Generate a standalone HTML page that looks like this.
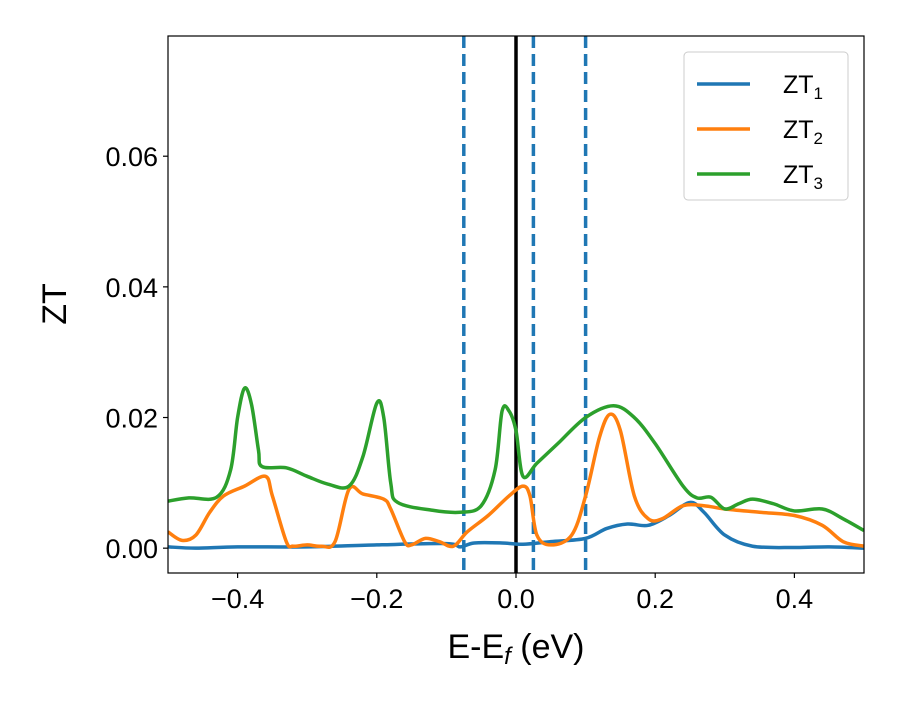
<!DOCTYPE html>
<html><head><meta charset="utf-8"><style>
body{margin:0;background:#fff}
svg text{font-family:"Liberation Sans","DejaVu Sans",sans-serif}
</style></head><body>
<svg id="chart" width="900" height="700" xmlns="http://www.w3.org/2000/svg">
<rect width="900" height="700" fill="#fff"/>
<g id="plot"></g>
<g id="axes"></g>
<text x="516" y="658" text-anchor="middle" font-size="34">E-E<tspan font-style="italic" font-size="24" dy="6">f</tspan><tspan dy="-6"> (eV)</tspan></text>
<text transform="translate(66,304) rotate(-90)" text-anchor="middle" font-size="34">ZT</text>
<g>
<rect x="684" y="52" width="164" height="148" rx="4" fill="#fff" stroke="#ccc"/>
<g><line x1="697" y1="84" x2="750" y2="84" stroke="#1f77b4" stroke-width="3.5"/><text x="783" y="93" font-size="25">ZT<tspan font-size="17" dy="6">1</tspan></text></g>
<g><line x1="697" y1="129" x2="750" y2="129" stroke="#ff7f0e" stroke-width="3.5"/><text x="783" y="138" font-size="25">ZT<tspan font-size="17" dy="6">2</tspan></text></g>
<g><line x1="697" y1="174" x2="750" y2="174" stroke="#2ca02c" stroke-width="3.5"/><text x="783" y="183" font-size="25">ZT<tspan font-size="17" dy="6">3</tspan></text></g>
</g>
</svg>
<script>
const xTicks=[-0.4,-0.2,0.0,0.2,0.4];
const xTickLabels=["\u22120.4","\u22120.2","0.0","0.2","0.4"];
const yTicks=[0,0.02,0.04,0.06];
const yTickLabels=["0.00","0.02","0.04","0.06"];
const dashedLines=[-0.075,0.025,0.1];
const fermiLine=[0];
const x3=[-0.5,-0.47,-0.43,-0.41,-0.4,-0.39,-0.38,-0.37,-0.365,-0.33,-0.3,-0.27,-0.24,-0.22,-0.2,-0.19,-0.18,-0.17,-0.12,-0.08,-0.05,-0.03,-0.02,-0.01,0,0.01,0.03,0.06,0.1,0.14,0.17,0.2,0.24,0.26,0.28,0.3,0.32,0.34,0.37,0.4,0.44,0.47,0.5];
const zt3=[0.0072,0.0077,0.0078,0.012,0.02,0.0245,0.022,0.015,0.0125,0.0123,0.011,0.0098,0.0095,0.014,0.0222,0.02,0.01,0.007,0.0058,0.0055,0.0065,0.012,0.021,0.021,0.018,0.011,0.013,0.016,0.02,0.0218,0.02,0.016,0.0095,0.0077,0.0078,0.006,0.0068,0.0075,0.0068,0.0057,0.006,0.0045,0.0027];
const x2=[-0.5,-0.48,-0.46,-0.44,-0.42,-0.39,-0.36,-0.35,-0.33,-0.32,-0.3,-0.28,-0.26,-0.24,-0.22,-0.19,-0.18,-0.16,-0.15,-0.13,-0.11,-0.09,-0.07,-0.04,-0.01,0.01,0.02,0.03,0.05,0.08,0.1,0.12,0.135,0.15,0.17,0.19,0.21,0.24,0.27,0.3,0.35,0.4,0.44,0.47,0.5];
const zt2=[0.0025,0.0012,0.002,0.0055,0.008,0.0095,0.011,0.008,0.001,0.0003,0.0005,0.0003,0.001,0.009,0.0083,0.0075,0.006,0.001,0.0005,0.0015,0.001,0.0003,0.0025,0.005,0.008,0.0095,0.008,0.002,0.0005,0.002,0.008,0.017,0.0205,0.018,0.008,0.0045,0.0045,0.0065,0.0065,0.006,0.0055,0.005,0.0035,0.001,0.0003];
const x1=[-0.5,-0.46,-0.4,-0.3,-0.2,-0.1,-0.08,-0.06,-0.02,0.01,0.05,0.1,0.13,0.16,0.19,0.22,0.25,0.27,0.3,0.34,0.4,0.45,0.5];
const zt1=[0.0002,0,0.0002,0.0002,0.0005,0.0007,0.0002,0.0008,0.0008,0.0006,0.001,0.0015,0.003,0.0037,0.0035,0.005,0.007,0.0055,0.002,0.0003,0.0001,0.0002,0];
const L=168,R=864,T=36,B=573,xmin=-0.5,xmax=0.5,ymin=-0.0038,ymax=0.0784;
const sx=v=>L+(v-xmin)/(xmax-xmin)*(R-L);
const sy=v=>B-(v-ymin)/(ymax-ymin)*(B-T);
const NS="http://www.w3.org/2000/svg";
function mk(tag,attrs,parent){const e=document.createElementNS(NS,tag);for(const k in attrs)e.setAttribute(k,attrs[k]);parent.appendChild(e);return e;}
const plot=document.getElementById('plot'),axes=document.getElementById('axes');
function smooth(xs,ys){const p=xs.map((x,i)=>[sx(x),sy(ys[i])]);let d=`M${p[0][0]},${p[0][1]}`;
for(let i=0;i<p.length-1;i++){const p0=p[i-1]||p[i],p1=p[i],p2=p[i+1],p3=p[i+2]||p2;
const c1=[p1[0]+(p2[0]-p0[0])/6,p1[1]+(p2[1]-p0[1])/6],c2=[p2[0]-(p3[0]-p1[0])/6,p2[1]-(p3[1]-p1[1])/6];
d+=`C${c1[0]},${c1[1]} ${c2[0]},${c2[1]} ${p2[0]},${p2[1]}`;}return d;}
const clip=mk('clipPath',{id:'cp'},plot);mk('rect',{x:L,y:T,width:R-L,height:B-T},clip);
const g=mk('g',{'clip-path':'url(#cp)'},plot);
dashedLines.forEach(v=>{const l=mk('line',{x1:sx(v),x2:sx(v),y1:T,y2:B,stroke:'#1f77b4','stroke-width':3.5,'stroke-dasharray':'12,6'},g);

});
fermiLine.forEach(v=>{const l=mk('line',{x1:sx(v),x2:sx(v),y1:T,y2:B,stroke:'#000','stroke-width':3.5},g);

});
[[x1,zt1,'#1f77b4','zt1-line'],[x2,zt2,'#ff7f0e','zt2-line'],[x3,zt3,'#2ca02c','zt3-line']].forEach(s=>{
const p=mk('path',{d:smooth(s[0],s[1]),fill:'none',stroke:s[2],'stroke-width':3.5,'stroke-linejoin':'round'},g);

});
const fr=mk('rect',{x:L,y:T,width:R-L,height:B-T,fill:'none',stroke:'#000','stroke-width':1.2},axes);


xTicks.forEach((v,i)=>{mk('line',{x1:sx(v),x2:sx(v),y1:B,y2:B+5,stroke:'#000','stroke-width':1.2},axes);
const t=mk('text',{x:sx(v),y:B+35,'text-anchor':'middle','font-size':27},axes);t.textContent=xTickLabels[i];

});
yTicks.forEach((v,i)=>{mk('line',{x1:L-5,x2:L,y1:sy(v),y2:sy(v),stroke:'#000','stroke-width':1.2},axes);
const t=mk('text',{x:L-10,y:sy(v)+10,'text-anchor':'end','font-size':27},axes);t.textContent=yTickLabels[i];

});
</script>
</body></html>
